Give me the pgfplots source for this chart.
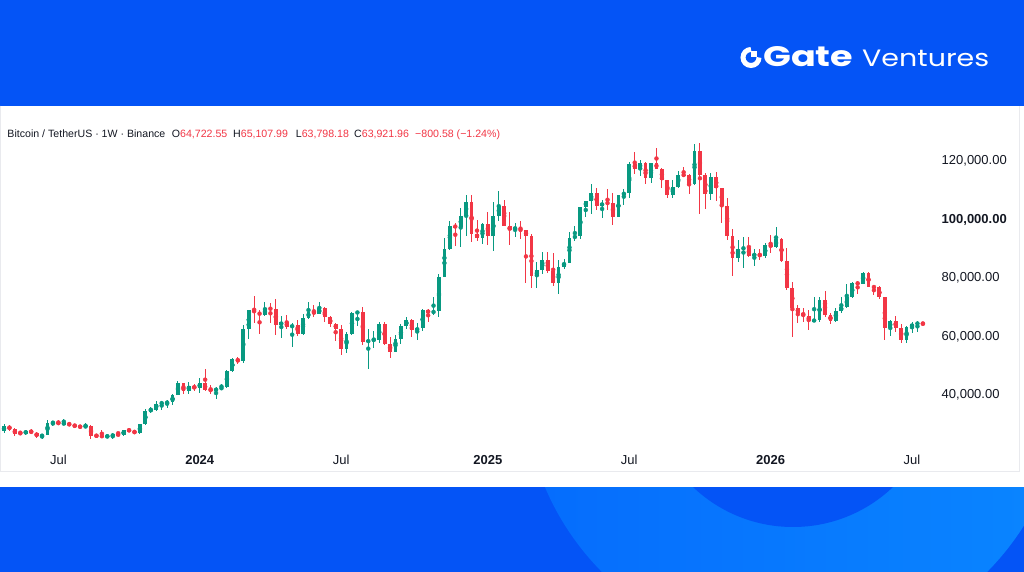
\documentclass[border=0pt]{standalone}
\usepackage{pgfplots}
\pgfplotsset{compat=1.18}
\usepackage{pgfplotstable}
\usepackage{fontspec}
\setmainfont{Liberation Sans}
\newfontfamily\pop{Poppins}
\definecolor{tvgreen}{HTML}{089981}
\definecolor{tvred}{HTML}{F23645}
\definecolor{tvtext}{HTML}{131722}
\definecolor{gblue}{HTML}{0454F6}
\definecolor{glightL}{HTML}{056CFD}
\definecolor{glightR}{HTML}{0A86FF}
\definecolor{bord}{HTML}{E9EAEE}

\pgfplotstableread{
i o h l c
0 27590 30000 26940 29230
1 29230 29820 27680 28430
2 28430 28870 25810 26780
3 27050 27650 26550 26750
4 26750 28100 26350 27700
5 27700 28450 26500 27110
6 27110 27350 25350 25840
7 25840 26800 24800 26340
8 26340 31430 26240 30470
9 30470 31000 29500 30600
10 30600 31500 29700 30150
11 30150 31800 29950 30290
12 30290 30400 29500 29800
13 29800 29990 28900 29280
14 29280 29700 28600 29050
15 29050 30250 28700 29400
16 29400 29700 25100 26100
17 26100 26800 25350 26000
18 26000 28150 25350 25800
19 25800 26450 25330 25850
20 25850 26900 24900 26530
21 26530 27480 26350 26250
22 26250 28050 26000 27980
23 27980 28600 27200 27920
24 27920 28000 26550 26850
25 26850 30000 26750 29990
26 29990 35200 29700 34530
27 34530 35980 33900 35000
28 35000 38000 34500 37060
29 37060 37980 34800 37380
30 37380 38400 35650 37450
31 37450 40250 36700 39960
32 39960 44700 39950 43970
33 43970 44000 40200 41360
34 41360 44400 40500 42990
35 42990 43800 41400 42280
36 42280 45900 40750 43940
37 43940 48970 41500 41730
38 41730 43580 40280 41600
39 41600 42800 38550 42030
40 42030 43880 41900 42580
41 42580 48600 42250 48300
42 48300 52800 47700 52140
43 52140 52990 50600 51730
44 51730 64000 50900 62500
45 62500 69000 59000 68900
46 68900 73780 64500 68390
47 68390 68920 60760 67210
48 67210 71770 66900 69650
49 69650 71340 64500 69360
50 69360 72800 60660 63920
51 63920 66870 59600 64940
52 64940 67230 62400 63120
53 63120 64700 56550 63900
54 63900 65500 60190 60800
55 60800 67700 60630 66270
56 66270 71950 66100 68500
57 68500 70600 66620 67770
58 67770 71950 67600 69650
59 69650 70200 65070 66620
60 66620 66950 63370 64250
61 64250 64500 58400 62720
62 62720 63800 53500 55860
63 55860 61400 54260 60800
64 60800 68400 60630 68160
65 68160 68500 63450 68250
66 68250 70000 57100 58120
67 58120 62700 49000 58710
68 58710 61800 56100 58910
69 58910 65000 57800 64220
70 64220 64900 57200 57300
71 57300 59800 52550 54840
72 54840 60600 54600 59130
73 59130 64100 57500 63580
74 63580 66500 62700 65600
75 65600 66000 59800 62080
76 62080 64500 58900 62850
77 62850 69400 62000 69000
78 69000 69500 65000 68000
79 68000 73600 67500 68750
80 68750 81500 66800 80370
81 80370 93500 80200 89850
82 89850 99600 89400 97900
83 97900 98800 90800 97280
84 97280 104000 90500 101150
85 101150 108350 94200 106060
86 106060 108350 92200 95180
87 95180 99900 92500 93720
88 93720 98950 91500 98300
89 98300 102700 91200 94500
90 94500 106000 89250 101300
91 101300 109600 99500 104700
92 104700 106500 97750 97700
93 97700 102500 91200 96460
94 96460 98800 94100 97500
95 97500 99500 93400 96250
96 96250 96500 78250 94270
97 94270 95000 76600 80700
98 80700 85300 76600 82600
99 82600 88800 81300 86100
100 86100 88750 81600 82350
101 82350 88500 77150 78400
102 78400 86100 74500 83750
103 83750 86400 83100 85200
104 85200 95750 85100 93750
105 93750 97900 92800 94300
106 94300 104350 93400 104100
107 104100 105800 100700 106450
108 106450 111980 102000 109000
109 109000 110700 103100 104600
110 104600 106800 100400 105700
111 105700 110400 103100 105500
112 105500 108900 98200 100960
113 100960 108500 100900 108350
114 108350 110500 105100 109200
115 109200 119500 107500 119100
116 119100 123200 115700 117300
117 117300 120200 114700 119400
118 119400 119800 112000 114200
119 114200 119400 112600 119300
120 119300 124500 117200 117400
121 117400 117600 110600 113500
122 113500 113600 107300 108250
123 108250 113400 107300 111150
124 111150 116700 110600 115300
125 115300 117900 114400 115100
126 115100 115400 108600 112200
127 112200 125700 111800 123500
128 123500 126200 102000 115100
129 115100 116000 103500 108700
130 108700 116000 106700 114500
131 114500 116400 106300 110600
132 110600 110800 98900 104700
133 104700 107500 93000 94200
134 94200 96600 80600 86800
135 86800 93100 85300 90000
136 90000 94000 83400 90300
137 90300 94130 87060 87630
138 87630 89800 84100 88200
139 88200 89800 86000 87400
140 87400 91850 86720 91280
141 91280 94700 88660 90710
142 90710 97550 90140 93220
143 93220 93560 85580 85920
144 85920 90140 75890 76460
145 76460 78740 59930 69620
146 69620 70760 64490 68140
147 68140 69620 65060 67110
148 67110 69050 62200 65280
149 65280 73600 65060 65620
150 65620 73380 65060 72470
151 72470 75660 66770 67340
152 67340 68000 64400 65400
153 65400 69600 65060 68710
154 68710 73380 67910 70190
155 70190 77940 69850 73380
156 73380 78740 73040 78170
157 78400 79080 74520 77940
158 77940 82160 77940 81820
159 81820 82050 76800 77030
160 77030 77600 74070 76800
161 76800 77260 72700 73380
162 73380 73610 58790 62780
163 62780 65640 60160 65290
164 65290 67000 61640 62780
165 62780 64260 57650 58790
166 58790 63580 57650 63350
167 63350 65060 61300 64150
168 64150 65290 61640 64722.55
169 64722.55 65107.99 63798.18 63921.96
}\btc

\begin{document}
\begin{tikzpicture}
\begin{scope}[x=1bp,y=1bp]
\useasboundingbox (0,0) rectangle (1024,572);
\fill[gblue] (0,0) rectangle (1024,572);
\begin{scope}
\clip (0,0) rectangle (1024,85);
\shade[left color=glightL, right color=glightR] (794.5,190.7) circle (271);
\fill[gblue] (793,190) circle (145);
\end{scope}
\fill[white] (0,84.7) rectangle (1024,466.3);
\draw[bord, line width=1bp] (0.5,466.3) -- (0.5,100) -- (1019,100) -- (1019,466.3);
\end{scope}

\begin{axis}[
  at={(0bp,125bp)}, anchor=south west,
  scale only axis, width=932bp, height=329bp,
  xmin=-0.736, xmax=170.68,
  ymin=22217, ymax=134702,
  scaled y ticks=false,
  axis line style={draw=none}, tick style={draw=none},
  xtick={10,36,62,89,115,141,167},
  xticklabels={Jul,\textbf{2024},Jul,\textbf{2025},Jul,\textbf{2026},Jul},
  ytick={40000,60000,80000,100000,120000},
  yticklabels={{40,000.00},{60,000.00},{80,000.00},{\textbf{100,000.00}},{120,000.00}},
  yticklabel pos=right,
  yticklabel style={anchor=west, inner sep=0pt, xshift=9.5bp, font=\fontsize{13bp}{15bp}\selectfont, text=tvtext},
  xticklabel style={anchor=base, inner sep=0pt, yshift=-18bp, font=\fontsize{13bp}{15bp}\selectfont, text=tvtext},
]
% wicks
\addplot[tvgreen, only marks, mark=none, forget plot,
  error bars/.cd, y dir=both, y explicit, error mark=none,
  error bar style={tvgreen, line width=1bp}]
  table[x=i, y expr={\thisrow{c}>=\thisrow{o} ? 0.5*(\thisrow{h}+\thisrow{l}) : nan},
        y error expr={0.5*(\thisrow{h}-\thisrow{l})}] {\btc};
\addplot[tvred, only marks, mark=none, forget plot,
  error bars/.cd, y dir=both, y explicit, error mark=none,
  error bar style={tvred, line width=1bp}]
  table[x=i, y expr={\thisrow{c}<\thisrow{o} ? 0.5*(\thisrow{h}+\thisrow{l}) : nan},
        y error expr={0.5*(\thisrow{h}-\thisrow{l})}] {\btc};
% bodies
\addplot[tvgreen, only marks, mark=none, forget plot,
  error bars/.cd, y dir=both, y explicit, error mark=none,
  error bar style={tvgreen, line width=3.8bp}]
  table[x=i, y expr={\thisrow{c}>=\thisrow{o} ? 0.5*(\thisrow{o}+\thisrow{c}) : nan},
        y error expr={max(0.5*abs(\thisrow{c}-\thisrow{o}),150)}] {\btc};
\addplot[tvred, only marks, mark=none, forget plot,
  error bars/.cd, y dir=both, y explicit, error mark=none,
  error bar style={tvred, line width=3.8bp}]
  table[x=i, y expr={\thisrow{c}<\thisrow{o} ? 0.5*(\thisrow{o}+\thisrow{c}) : nan},
        y error expr={max(0.5*abs(\thisrow{c}-\thisrow{o}),150)}] {\btc};
\end{axis}

\begin{scope}[x=1bp,y=1bp, every node/.style={inner sep=0pt, font=\fontsize{10.6bp}{13bp}\selectfont}]
\node[anchor=base west, text=tvtext] at (7.3,434) {Bitcoin / TetherUS · 1W · Binance};
\node[anchor=base west] at (171.7,434) {\textcolor{tvtext}{O}\textcolor{tvred}{64,722.55}};
\node[anchor=base west] at (233,434) {\textcolor{tvtext}{H}\textcolor{tvred}{65,107.99}};
\node[anchor=base west] at (295.7,434) {\textcolor{tvtext}{L}\textcolor{tvred}{63,798.18}};
\node[anchor=base west] at (354,434) {\textcolor{tvtext}{C}\textcolor{tvred}{63,921.96}};
\node[anchor=base west, text=tvred] at (415,434) {−800.58 (−1.24\%)};
% logo
\draw[white, line width=5bp] (751,522.5) arc[start angle=90, end angle=360, radius=8];
\fill[white] (751,514.5) rectangle (757,520.5);
\node[anchor=base west, text=white] at (763,505) {\resizebox{90bp}{20bp}{\pop\bfseries Gate}};
\node[anchor=base west, text=white] at (862,505.3) {\resizebox{127bp}{16.5bp}{\pop Ventures}};
\end{scope}
\end{tikzpicture}
\end{document}
